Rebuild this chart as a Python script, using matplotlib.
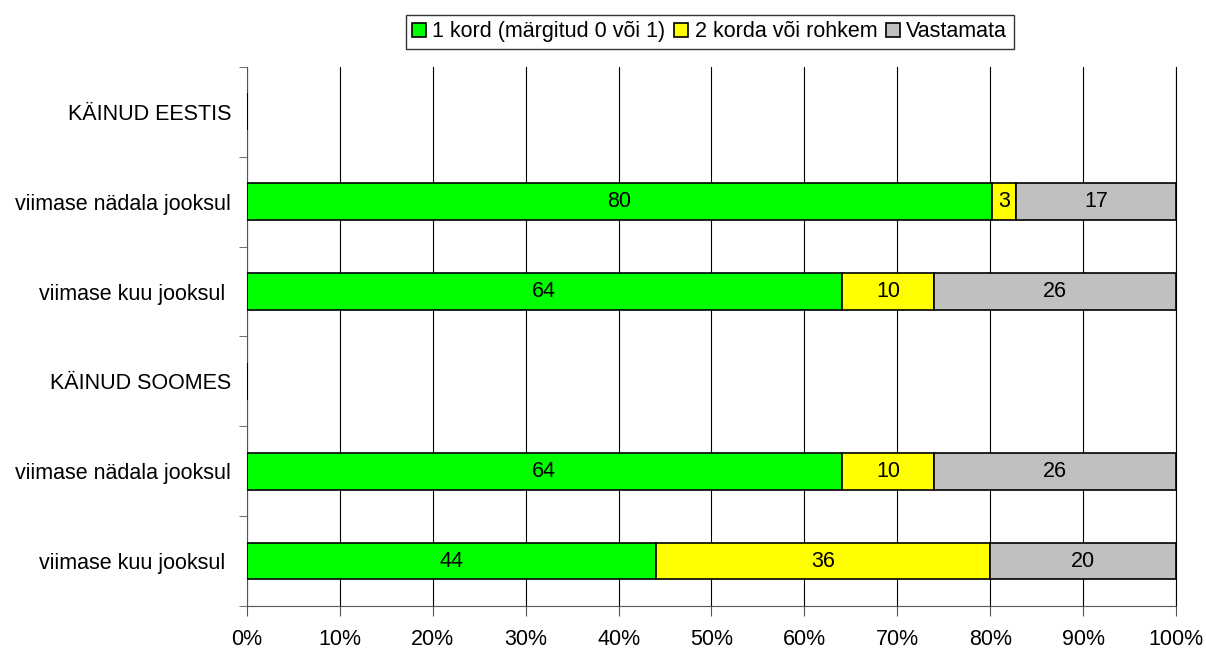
import matplotlib.pyplot as plt
from matplotlib.ticker import FixedLocator, PercentFormatter

plt.rcParams['font.family'] = ['Liberation Sans', 'DejaVu Sans']

# Data
categories = ['KÄINUD EESTIS', 'viimase nädala jooksul', 'viimase kuu jooksul ',
              'KÄINUD SOOMES', 'viimase nädala jooksul', 'viimase kuu jooksul ']
once = [0, 80.2, 64, 0, 64, 44]
twice = [0, 2.6, 10, 0, 10, 36]
unanswered = [0, 17.2, 26, 0, 26, 20]
series_names = ['1 kord (märgitud 0 või 1)', '2 korda või rohkem', 'Vastamata']
colors = ['#00FF00', '#FFFF00', '#C0C0C0']

fs = 15.5

fig = plt.figure(figsize=(12.06, 6.5), dpi=100)
ax = fig.add_axes([0.2048, 0.0677, 0.7703, 0.8293])

y = list(range(len(categories)))
left = [0] * len(categories)
for vals, name, col in zip([once, twice, unanswered], series_names, colors):
    bars = ax.barh(y, vals, left=left, height=0.41, color=col, edgecolor='black',
                   linewidth=1.2, label=name, zorder=3)
    for b, v, l in zip(bars, vals, left):
        if v > 0:
            ax.text(l + v / 2, b.get_y() + b.get_height() / 2, f'{round(v)}',
                    ha='center', va='center', fontsize=fs, zorder=4)
    left = [a + b for a, b in zip(left, vals)]

ax.set_xlim(0, 100)
ax.set_ylim(len(categories) - 0.5, -0.5)
ax.set_xticks(range(0, 101, 10))
ax.xaxis.set_major_formatter(PercentFormatter(decimals=0))
ax.grid(axis='x', color='black', linewidth=0.8, zorder=0)

ax.set_yticks(y)
ax.set_yticklabels(categories, fontsize=fs)
ax.yaxis.set_minor_locator(FixedLocator([i - 0.5 for i in range(len(categories) + 1)]))
ax.tick_params(axis='y', which='major', length=0, pad=11.5)
ax.tick_params(axis='y', which='minor', length=6, color='#555555')
ax.tick_params(axis='x', length=7, labelsize=fs, pad=9.5, color='#555555')

ax.spines['top'].set_visible(False)
ax.spines['right'].set_color('black')
ax.spines['right'].set_linewidth(0.8)
ax.spines['left'].set_color('#555555')
ax.spines['bottom'].set_color('#555555')

leg = ax.legend(loc='center', bbox_to_anchor=(0.498, 1.065), ncol=3, fontsize=fs,
                frameon=True, fancybox=False, edgecolor='black', handlelength=0.65,
                handleheight=0.65, handletextpad=0.3, columnspacing=0.4,
                borderpad=0.3, borderaxespad=0)
leg.get_frame().set_linewidth(1.0)

fig.savefig('out.png', dpi=100)
